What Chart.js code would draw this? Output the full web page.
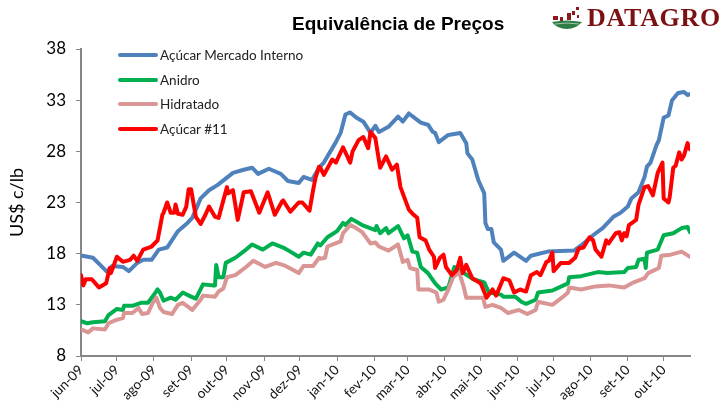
<!DOCTYPE html>
<html>
<head>
<meta charset="utf-8">
<script src="https://cdn.jsdelivr.net/npm/chart.js@4"></script>
<style>
  html, body { margin:0; padding:0; background:#fff; }
  #box { position:relative; width:724px; height:407px; overflow:hidden; }
  #titulo { position:absolute; left:292px; top:13px; font:bold 19px "Liberation Sans",Arial,sans-serif; color:#000; white-space:nowrap; }
  #marca { position:absolute; left:587px; top:3px; font:bold 26px "Liberation Serif",serif; letter-spacing:.7px; color:#7b1113; white-space:nowrap; }
  #logo { position:absolute; left:551px; top:5px; }
  .leg { position:absolute; left:118px; font:13.5px Lato,sans-serif; color:#222; white-space:nowrap; height:16px; line-height:16px; }
  .leg i { position:absolute; left:0; top:6px; width:40px; height:4px; border-radius:2px; }
  .leg span { position:absolute; left:42px; }
</style>
</head>
<body>
<div id="box">
  <canvas id="grafico" width="724" height="407"></canvas>
  <div id="titulo">Equivalência de Preços</div>
  <svg id="logo" width="32" height="26" viewBox="0 0 32 26">
    <g fill="#8c1a1c">
      <rect x="2" y="11" width="5" height="4"/><rect x="9" y="12" width="3" height="4"/><rect x="16" y="8" width="4" height="7"/>
      <rect x="21" y="6" width="3" height="4"/><rect x="25" y="2" width="3" height="3"/><rect x="26" y="10" width="2" height="3"/>
    </g>
    <path d="M1 17 Q16 14 31 17 Q25 24 16 24 Q6 24 1 17Z" fill="#2f7d46"/>
    <path d="M4 19 Q16 17 28 19" stroke="#9cc7a8" stroke-width="1" fill="none"/>
  </svg>
  <div id="marca">DATAGRO</div>
  <div id="legenda"></div>
</div>
<script>
// === Dados ===
const nomes = ['Açúcar Mercado Interno', 'Anidro', 'Hidratado', 'Açúcar #11'];
const cores = ['#4f81bd', '#00b050', '#d99694', '#ff0000'];
const meses = ['jun-09','jul-09','ago-09','set-09','out-09','nov-09','dez-09','jan-10','fev-10','mar-10','abr-10','mai-10','jun-10','jul-10','ago-10','set-10','out-10'];
const diasMes = [0,30,61,92,122,153,183,214,245,273,304,334,365,395,426,457,487];
const yTicks = [8,13,18,23,28,33,38];

const diasInterno = [1,10,16,22,26,35,40,47,52,59,65,72,81,89,93,100,107,114,127,136,143,148,157,167,173,182,186,193,199,203,213,217,221,225,230,236,242,246,249,257,265,269,274,284,290,294,296,299,307,317,322,323,327,332,337,338,340,343,345,351,353,362,372,376,390,412,418,428,436,445,451,457,460,466,471,473,476,481,483,487,491,494,499,504,507,509];
const interno = [17.8,17.6,16.9,16.2,16.8,16.7,16.3,17.1,17.4,17.4,18.4,18.6,20.2,21.0,21.5,23.4,24.2,24.7,25.9,26.2,26.4,25.8,26.3,25.8,25.1,24.9,25.5,25.2,26.4,26.9,28.9,29.8,31.6,31.8,31.3,30.9,29.8,30.5,29.9,30.4,31.4,30.9,31.7,30.8,30.6,29.9,29.8,28.9,29.6,29.8,28.8,27.8,27.2,25.2,23.9,21.0,20.4,20.4,19.1,18.4,17.3,18.1,17.3,17.8,18.2,18.3,18.8,19.8,20.5,21.6,22.0,22.6,23.4,24.0,25.5,26.5,26.9,28.6,29.1,31.3,31.5,33.0,33.7,33.8,33.5,33.6];

const diasAnidro = [0,5,10,20,23,30,35,36,43,50,56,61,64,66,69,75,79,85,92,96,102,111,112,113,115,119,121,129,138,143,152,160,169,175,182,186,192,198,200,206,214,219,221,226,235,246,247,250,255,257,265,270,273,277,281,284,290,296,301,307,312,320,328,337,341,351,353,363,368,372,380,382,394,407,408,418,432,440,454,457,464,466,471,472,473,482,487,495,502,507,509];
const anidro = [11.4,11.2,11.3,11.4,12.0,12.6,12.5,12.9,12.9,13.2,13.2,14.0,14.5,14.2,13.4,13.7,13.5,14.2,13.8,13.6,15.0,14.9,14.9,16.9,15.7,15.7,17.1,17.6,18.4,18.9,18.4,19.0,18.6,18.2,17.7,18.1,17.9,19.0,18.8,19.6,20.2,21.0,20.8,21.4,20.8,20.3,20.7,20.0,20.5,20.0,20.7,19.5,19.8,18.2,18.1,16.7,16.1,15.1,14.5,14.7,16.7,16.1,15.5,15.2,14.2,14.0,13.8,13.8,13.3,13.1,13.5,14.2,14.4,15.1,15.7,15.8,16.2,16.1,16.2,16.6,16.7,17.4,17.5,16.6,18.1,18.4,19.8,20.0,20.5,20.6,20.1];

const diasHidratado = [0,6,10,20,23,29,35,36,43,48,51,56,60,63,66,69,76,81,85,93,100,102,112,115,119,122,129,138,144,154,163,171,182,186,194,199,200,204,206,217,219,225,230,235,242,246,249,257,265,269,273,275,281,282,291,297,299,303,307,311,316,320,322,336,338,344,351,357,366,373,380,382,394,403,407,408,418,430,441,454,462,471,474,483,485,493,502,509];
const hidratado = [10.6,10.3,10.7,10.6,11.2,11.5,11.7,12.2,12.2,12.7,12.1,12.2,13.2,13.7,12.7,12.3,12.1,13.0,13.2,12.5,13.5,13.9,13.8,14.3,14.6,15.7,15.9,16.7,17.3,16.7,17.1,16.8,16.1,16.8,16.8,17.6,17.5,17.6,18.7,19.2,20.0,20.8,20.5,20.1,19.0,19.1,18.7,18.3,18.9,17.2,17.4,16.6,16.4,14.5,14.5,14.2,13.3,13.5,14.5,15.7,16.2,14.7,13.7,13.7,12.8,13.0,12.7,12.2,12.5,12.1,12.5,13.3,13.0,13.8,14.2,14.7,14.5,14.8,14.9,14.7,15.2,15.6,16.1,16.6,17.8,17.9,18.2,17.7];

const diasAcucar11 = [0,2,4,9,15,21,24,25,30,35,41,44,47,52,59,64,68,69,72,75,78,79,81,85,88,90,92,96,100,104,107,112,115,122,123,127,131,136,142,149,156,162,168,169,175,182,185,191,194,196,199,200,203,210,213,219,225,227,232,236,240,242,246,250,255,260,264,267,274,278,281,283,288,291,295,296,300,303,305,310,314,317,319,322,327,334,339,344,347,353,358,362,367,372,376,381,384,389,391,394,395,401,408,413,416,420,425,428,430,435,439,441,447,450,452,454,456,458,464,466,471,474,478,482,486,487,491,492,495,497,500,502,504,507,509];
const acucar11 = [15.9,14.9,15.5,15.5,14.7,15.1,16.6,16.1,17.7,17.2,17.4,17.8,17.3,18.4,18.7,19.3,21.8,22.0,23.0,22.0,22.0,22.8,21.9,21.8,22.6,24.3,24.3,21.6,20.9,21.8,22.6,21.6,21.5,24.5,23.9,24.2,21.3,24.0,24.1,22.0,24.0,21.8,23.1,23.2,22.1,23.0,23.0,22.2,24.2,25.4,26.5,26.4,25.7,27.2,26.9,28.4,26.9,28.0,29.1,29.4,28.3,29.9,29.3,26.4,27.5,26.2,26.7,24.5,22.3,21.8,21.5,19.6,19.3,18.4,17.7,16.6,17.6,17.9,16.7,15.9,16.4,17.6,16.1,16.9,15.6,15.1,13.7,14.5,13.9,15.6,15.4,14.2,14.5,14.3,15.9,16.2,15.9,17.2,17.3,18.1,16.3,17.1,17.1,17.6,18.5,18.6,19.6,19.3,18.4,17.7,19.3,19.0,20.0,20.1,19.3,20.0,19.7,20.8,21.3,22.8,24.5,24.6,23.7,25.9,26.9,23.4,23.0,23.5,26.4,26.6,27.9,27.2,27.6,28.8,28.2];

const diasSeries = [diasInterno, diasAnidro, diasHidratado, diasAcucar11];
const valores = [interno, anidro, hidratado, acucar11];

// === Legenda ===
const legenda = document.getElementById('legenda');
nomes.forEach((nome, i) => {
  const item = document.createElement('div');
  item.className = 'leg';
  item.style.top = (47 + i * 24.5) + 'px';
  item.innerHTML = '<i style="background:' + cores[i] + '"></i><span>' + nome + '</span>';
  legenda.appendChild(item);
});

// === Gráfico de linhas ===
const cinza = '#868686';
new Chart(document.getElementById('grafico'), {
  type: 'line',
  data: {
    datasets: nomes.map((nome, i) => ({
      label: nome,
      data: diasSeries[i].map((d, j) => ({ x: d, y: valores[i][j] })),
      borderColor: cores[i],
      borderWidth: 4,
      borderJoinStyle: 'round',
      borderCapStyle: 'round',
      pointRadius: 0,
      tension: 0,
      order: 4 - i
    }))
  },
  options: {
    responsive: false,
    animation: false,
    layout: { padding: { top: 49, right: 34 } },
    plugins: { legend: { display: false }, title: { display: false }, tooltip: { enabled: false } },
    scales: {
      x: {
        type: 'linear',
        min: 0,
        max: 509,
        afterBuildTicks: s => { s.ticks = diasMes.map(v => ({ value: v })); },
        afterFit: s => { s.height = 51; },
        grid: { drawOnChartArea: false, color: cinza, tickLength: 5, lineWidth: 1 },
        border: { color: cinza, width: 2 },
        ticks: {
          autoSkip: false,
          minRotation: 45,
          maxRotation: 45,
          padding: 1,
          color: '#111',
          font: { family: 'Lato', size: 13.5 },
          callback: (v, i) => meses[i]
        }
      },
      y: {
        min: 8,
        max: 38,
        afterBuildTicks: s => { s.ticks = yTicks.map(v => ({ value: v })); },
        afterFit: s => { s.width = 81; },
        grid: { drawOnChartArea: false, color: cinza, tickLength: 5, lineWidth: 1 },
        border: { color: cinza, width: 2 },
        ticks: { padding: 10, color: '#000', font: { family: 'Lato', size: 17 } },
        title: { display: true, text: 'US$ c/lb', color: '#000', font: { family: 'Lato', size: 18 }, padding: { top: 6, bottom: 0 } }
      }
    }
  }
});
</script>
</body>
</html>
